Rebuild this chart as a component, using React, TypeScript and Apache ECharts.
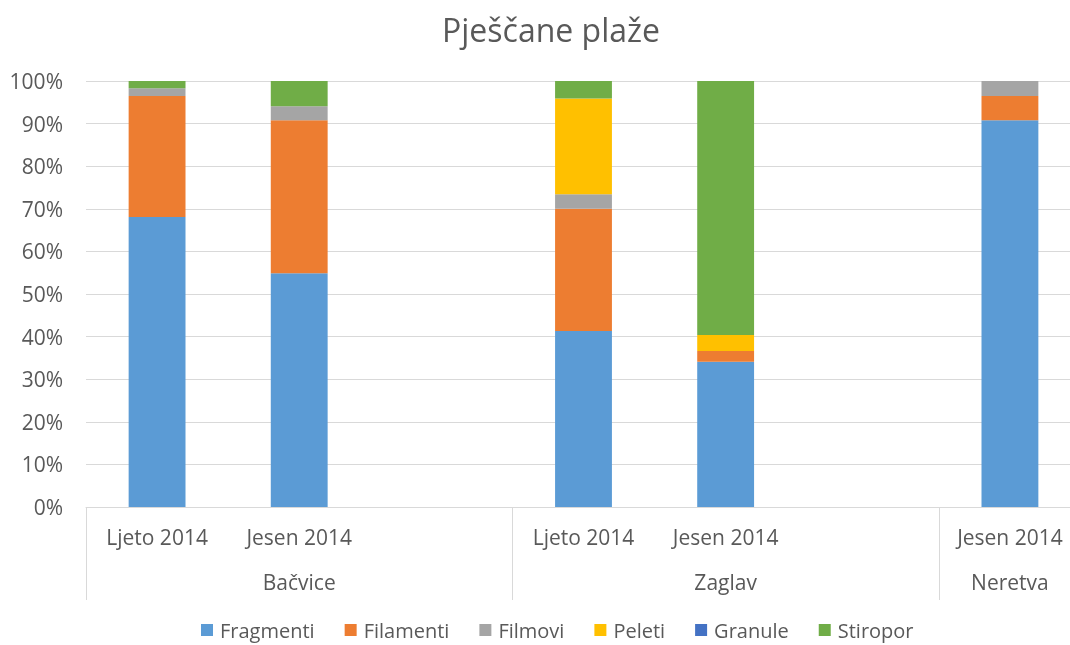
import React, { useEffect, useRef } from "react";
import * as echarts from "echarts";

const periods = ["Ljeto 2014", "Jesen 2014", "", "Ljeto 2014", "Jesen 2014", "", "Jesen 2014"];
const sites = ["", "Bačvice", "", "", "Zaglav", "", "Neretva"];
const yTicks = [0, 10, 20, 30, 40, 50, 60, 70, 80, 90, 100];

const seriesNames = ["Fragmenti", "Filamenti", "Filmovi", "Peleti", "Granule", "Stiropor"];
const colors = ["#5B9BD5", "#ED7D31", "#A5A5A5", "#FFC000", "#4472C4", "#70AD47"];

const fragmenti = [68.1, 54.9, null, 41.3, 34.1, null, 90.8];
const filamenti = [28.4, 35.9, null, 28.7, 2.5, null, 5.7];
const filmovi = [1.8, 3.3, null, 3.4, 0, null, 3.5];
const peleti = [0, 0, null, 22.5, 3.8, null, 0];
const granule = [0, 0, null, 0, 0, null, 0];
const stiropor = [1.7, 5.9, null, 4.1, 59.6, null, 0];

const values = [fragmenti, filamenti, filmovi, peleti, granule, stiropor];

const FONT = "'Open Sans', 'Noto Sans', sans-serif";
const TXT = "#595959";
const FS = 21;

export default function App() {
  const ref = useRef<HTMLDivElement>(null);
  useEffect(() => {
    if (!ref.current) return;
    const chart = echarts.init(ref.current, undefined, { renderer: "svg" });
    chart.setOption({
      animation: false,
      textStyle: { fontFamily: FONT },
      title: {
        text: "Pješčane plaže",
        left: 437,
        top: 8,
        textStyle: { fontFamily: FONT, fontSize: 32, fontWeight: "normal", color: TXT },
      },
      legend: {
        top: 619,
        left: 201,
        padding: 0,
        itemWidth: 12,
        itemHeight: 12,
        itemGap: 30,
        icon: "rect",
        data: seriesNames,
        textStyle: { fontFamily: FONT, fontSize: 20, lineHeight: 22, color: TXT, padding: [0, 0, 0, 2] },
      },
      grid: {
        left: 86,
        top: 81,
        width: 995,
        height: 426,
        containLabel: false,
        outerBoundsMode: "none",
      },
      xAxis: [
        {
          type: "category",
          data: periods,
          position: "bottom",
          axisLine: { lineStyle: { color: "#D9D9D9" } },
          axisTick: { show: false },
          axisLabel: { interval: 0, margin: 19, fontSize: FS, color: TXT, fontFamily: FONT },
        },
        {
          type: "category",
          data: sites,
          position: "bottom",
          axisLine: { show: false },
          axisTick: {
            show: true,
            length: 93,
            interval: (i: number) => i === 0 || i === 3 || i === 6,
            lineStyle: { color: "#D9D9D9" },
          },
          axisLabel: { interval: 0, margin: 64, fontSize: FS, color: TXT, fontFamily: FONT },
        },
      ],
      yAxis: {
        type: "value",
        min: 0,
        max: 100,
        interval: 10,
        axisLine: { show: false },
        axisTick: { show: false },
        splitLine: { lineStyle: { color: "#D9D9D9" } },
        axisLabel: {
          formatter: (v: number) => (yTicks.includes(v) ? v + "%" : ""),
          margin: 23,
          fontSize: FS,
          color: TXT,
          fontFamily: FONT,
        },
      },
      series: seriesNames.map((name, i) => ({
        name,
        type: "bar",
        stack: "total",
        xAxisIndex: 0,
        barWidth: "40%",
        itemStyle: { color: colors[i] },
        data: values[i],
      })),
    });
    return () => chart.dispose();
  }, []);
  return (
    <div
      ref={ref}
      style={{ position: "fixed", left: 0, top: 0, width: 1070, height: 645 }}
    />
  );
}
